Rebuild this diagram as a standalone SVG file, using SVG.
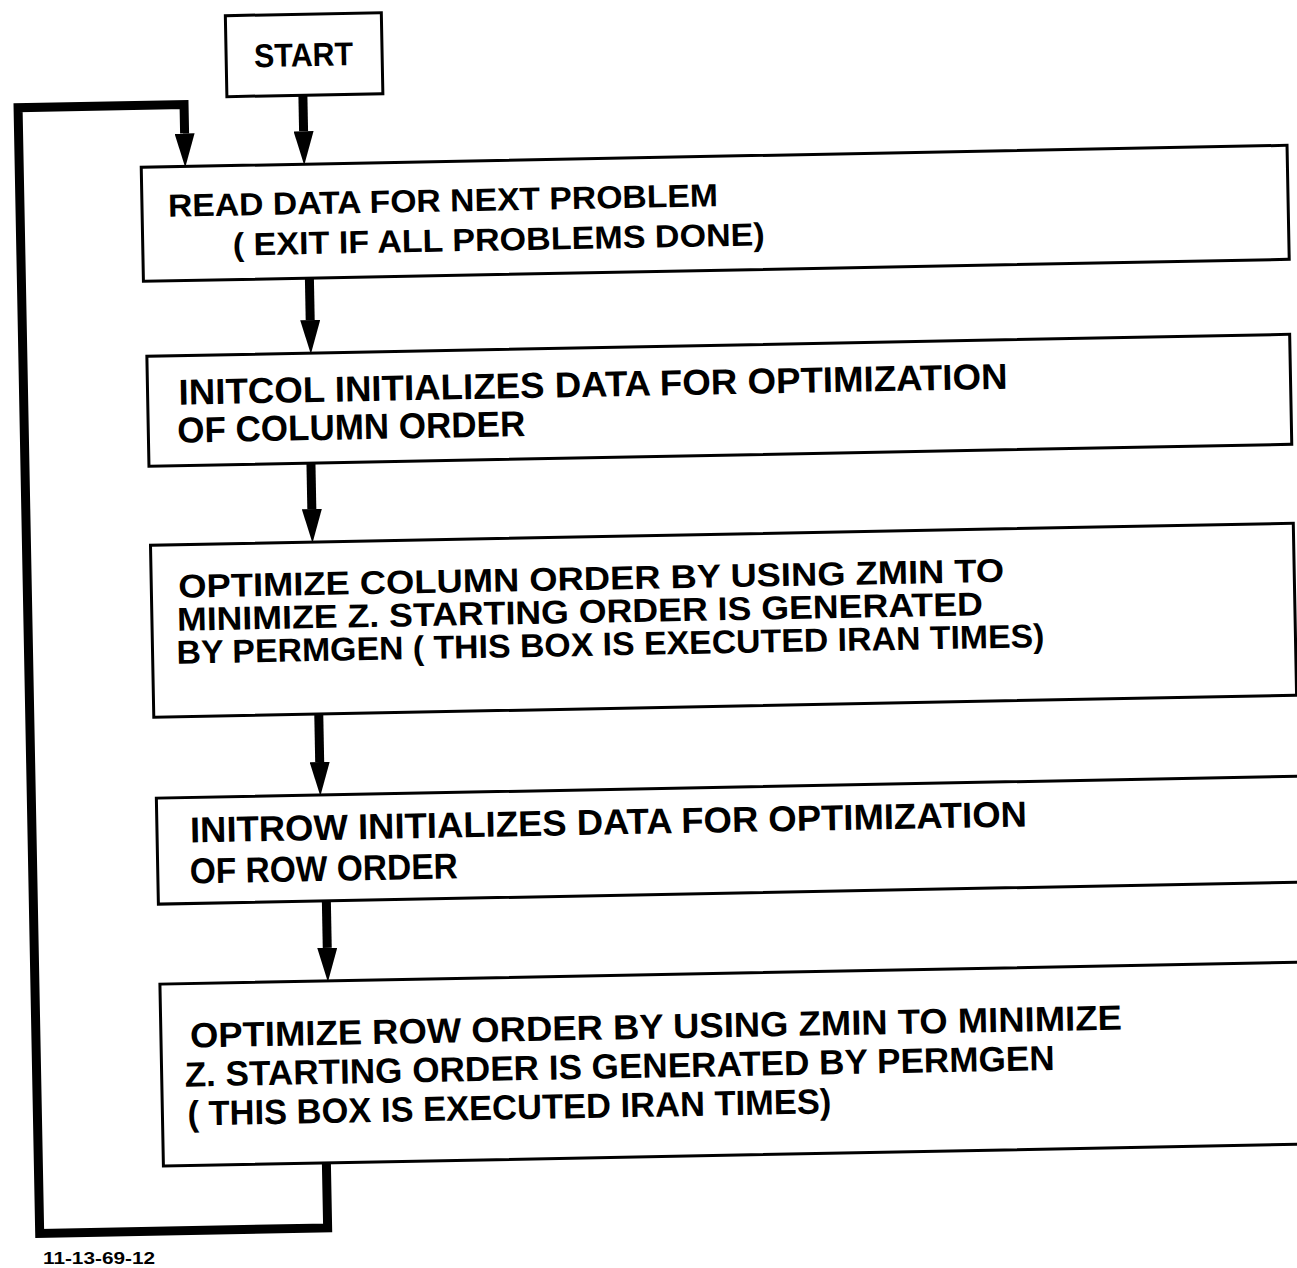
<svg xmlns="http://www.w3.org/2000/svg" width="1297" height="1268" viewBox="0 0 1297 1268">
<style>
.box{fill:#fff;stroke:#000;stroke-width:3}
.t{font-family:"Liberation Sans",Arial,sans-serif;font-weight:bold;fill:#000}
.f32{font-size:32px}
.f33{font-size:33px}
.f35{font-size:35px}
.f36{font-size:36px}
.conn{fill:none;stroke:#000;stroke-width:9;stroke-linejoin:miter}
.lbl{font-family:"Liberation Sans",Arial,sans-serif;font-weight:bold;font-size:17px;fill:#000}
</style>
<defs>
<marker id="ah" viewBox="0 0 34 20" refX="0" refY="10" markerWidth="34" markerHeight="20" markerUnits="userSpaceOnUse" orient="auto">
<path d="M0,0 L34,10 L0,20 z" fill="#000"/>
</marker>
</defs>
<rect width="1297" height="1268" fill="#fff"/>
<g transform="rotate(-1.1)">
<g id="connectors">
<path class="conn" d="M301,101 V137" marker-end="url(#ah)"/>
<path class="conn" d="M304,1169 V1234 H16 V108 H182 V137" marker-end="url(#ah)"/>
<path class="conn" d="M304,284 V326" marker-end="url(#ah)"/>
<path class="conn" d="M302,469 V515" marker-end="url(#ah)"/>
<path class="conn" d="M305,720 V768" marker-end="url(#ah)"/>
<path class="conn" d="M309,907 V954" marker-end="url(#ah)"/>
</g>
<g id="start">
<rect class="box" x="225" y="20" width="156" height="81"/>
<text class="t" x="253" y="72" font-size="33" textLength="99" lengthAdjust="spacingAndGlyphs">START</text>
</g>
<g id="read">
<rect class="box" x="138" y="170" width="1146" height="114"/>
<text class="t f32" x="164" y="220" textLength="550" lengthAdjust="spacingAndGlyphs">READ DATA FOR NEXT PROBLEM</text>
<text class="t f32" x="228" y="260" textLength="532" lengthAdjust="spacingAndGlyphs">( EXIT IF ALL PROBLEMS DONE)</text>
</g>
<g id="initcol">
<rect class="box" x="140" y="359" width="1143" height="110"/>
<text class="t f36" x="171" y="408" textLength="829" lengthAdjust="spacingAndGlyphs">INITCOL INITIALIZES DATA FOR OPTIMIZATION</text>
<text class="t f36" x="169" y="446" textLength="348" lengthAdjust="spacingAndGlyphs">OF COLUMN ORDER</text>
</g>
<g id="optcol">
<rect class="box" x="140" y="548" width="1143" height="172"/>
<text class="t f33" x="167" y="601" textLength="826" lengthAdjust="spacingAndGlyphs">OPTIMIZE COLUMN ORDER BY USING ZMIN  TO</text>
<text class="t f33" x="165" y="634" textLength="806" lengthAdjust="spacingAndGlyphs">MINIMIZE Z.  STARTING ORDER IS GENERATED</text>
<text class="t f33" x="164" y="667" textLength="868" lengthAdjust="spacingAndGlyphs">BY PERMGEN ( THIS BOX IS EXECUTED IRAN TIMES)</text>
</g>
<g id="initrow">
<rect class="box" x="141" y="801" width="1200" height="106"/>
<text class="t f36" x="174" y="846" textLength="837" lengthAdjust="spacingAndGlyphs">INITROW INITIALIZES DATA FOR OPTIMIZATION</text>
<text class="t f36" x="173" y="887" textLength="268" lengthAdjust="spacingAndGlyphs">OF ROW ORDER</text>
</g>
<g id="optrow">
<rect class="box" x="141" y="987" width="1200" height="182"/>
<text class="t f35" x="170" y="1051" textLength="932" lengthAdjust="spacingAndGlyphs">OPTIMIZE ROW ORDER BY USING ZMIN TO MINIMIZE</text>
<text class="t f35" x="164" y="1090" textLength="870" lengthAdjust="spacingAndGlyphs">Z.  STARTING ORDER IS GENERATED BY PERMGEN</text>
<text class="t f35" x="166" y="1129" textLength="644" lengthAdjust="spacingAndGlyphs">( THIS BOX IS EXECUTED IRAN TIMES)</text>
</g>
</g>
<text class="lbl" x="43" y="1264" textLength="112" lengthAdjust="spacingAndGlyphs">11-13-69-12</text>
</svg>
